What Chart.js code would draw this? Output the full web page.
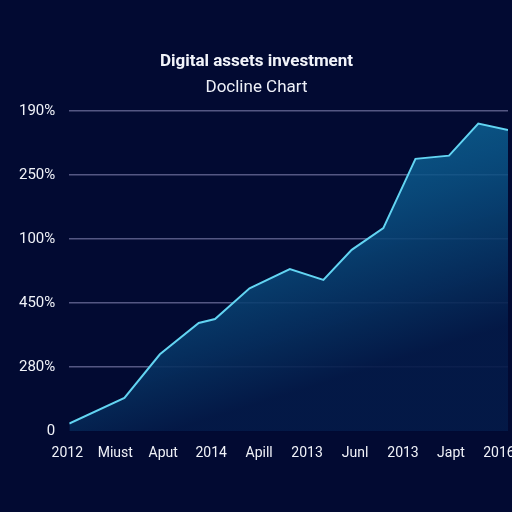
<!DOCTYPE html>
<html>
<head>
<meta charset="utf-8">
<script src="https://cdn.jsdelivr.net/npm/chart.js@4.4.1/dist/chart.umd.min.js"></script>
<style>
  html, body { margin: 0; padding: 0; background: #020a32; }
  #wrap { width: 512px; height: 512px; }
</style>
</head>
<body>
<div id="wrap"><canvas id="assetChart" width="512" height="512"></canvas></div>
<script>
	// tick labels as they appear on the picture
	const xLabels = ['2012','Miust','Aput','2014','Apill','2013','Junl','2013','Japt','2016'];
	const yLabels = ['0','280%','450%','100%','250%','190%'];
	// series: position along the x axis (label index units) and level (grid units)
	const xPos   = [0.04, 1.19, 1.93, 2.74, 3.08, 3.80, 4.64, 5.34, 5.93, 6.59, 7.26, 7.96, 8.57, 9.19];
	const yLevel = [0.12, 0.52, 1.20, 1.69, 1.75, 2.23, 2.53, 2.36, 2.83, 3.17, 4.25, 4.30, 4.80, 4.70];

	const points = xPos.map((x, i) => ({ x: x, y: yLevel[i] }));
	const ctx = document.getElementById('assetChart').getContext('2d');

	function areaFill(c) {
		const area = c.chart.chartArea;
		if (!area) return 'rgba(10,100,150,0.8)';
		const g = c.chart.ctx.createLinearGradient(area.left, area.top, area.left + 100, area.bottom);
		g.addColorStop(0, 'rgba(16,122,172,0.95)');
		g.addColorStop(0.55, 'rgba(10,82,132,0.85)');
		g.addColorStop(1, 'rgba(4,26,72,0.9)');
		return g;
	}

	const chart = new Chart(ctx, {
		type: 'line',
		data: {
			datasets: [{
				data: points,
				borderColor: '#62d4f2',
				borderWidth: 2,
				tension: 0,
				fill: 'origin',
				backgroundColor: areaFill,
				pointRadius: 0
			}]
		},
		options: {
			responsive: false,
			animation: false,
			layout: { padding: { top: 52, right: 4, left: 5, bottom: 44 } },
			plugins: {
				legend: { display: false },
				tooltip: { enabled: false },
				title: {
					display: true,
					text: 'Digital assets investment',
					color: '#f2f4fa',
					font: { family: 'Roboto', size: 17, weight: 'bold' },
					padding: { top: 0, bottom: 5 }
				},
				subtitle: {
					display: true,
					text: 'Docline Chart',
					color: '#eef0f8',
					font: { family: 'Roboto', size: 17 },
					padding: { bottom: 13 }
				}
			},
			scales: {
				x: {
					type: 'linear',
					min: 0.04,
					max: 9.19,
					afterBuildTicks: (s) => { s.ticks = xLabels.map((_, i) => ({ value: i })); },
					// let the end labels run past the plot like the original
					afterFit: (s) => { s.paddingRight = 0; s.paddingLeft = 0; },
					grid: { display: false },
					border: { display: false },
					ticks: {
						autoSkip: false,
						maxRotation: 0,
						color: '#f0f2f8',
						padding: 6,
						font: { family: 'Roboto', size: 14 },
						callback: (v) => xLabels[v]
					}
				},
				y: {
					min: 0,
					max: 5,
					afterBuildTicks: (s) => { s.ticks = yLabels.map((_, i) => ({ value: i })); },
					grid: {
						color: (c) => c.tick && c.tick.value === 0 ? 'rgba(0,0,0,0)' : 'rgba(120,120,165,0.7)',
						lineWidth: 1.5,
						drawTicks: false
					},
					border: { display: false },
					ticks: {
						color: '#f0f2f8',
						padding: 14,
						font: { family: 'Roboto', size: 15 },
						callback: (v) => yLabels[v]
					}
				}
			}
		}
	});
</script>
</body>
</html>
